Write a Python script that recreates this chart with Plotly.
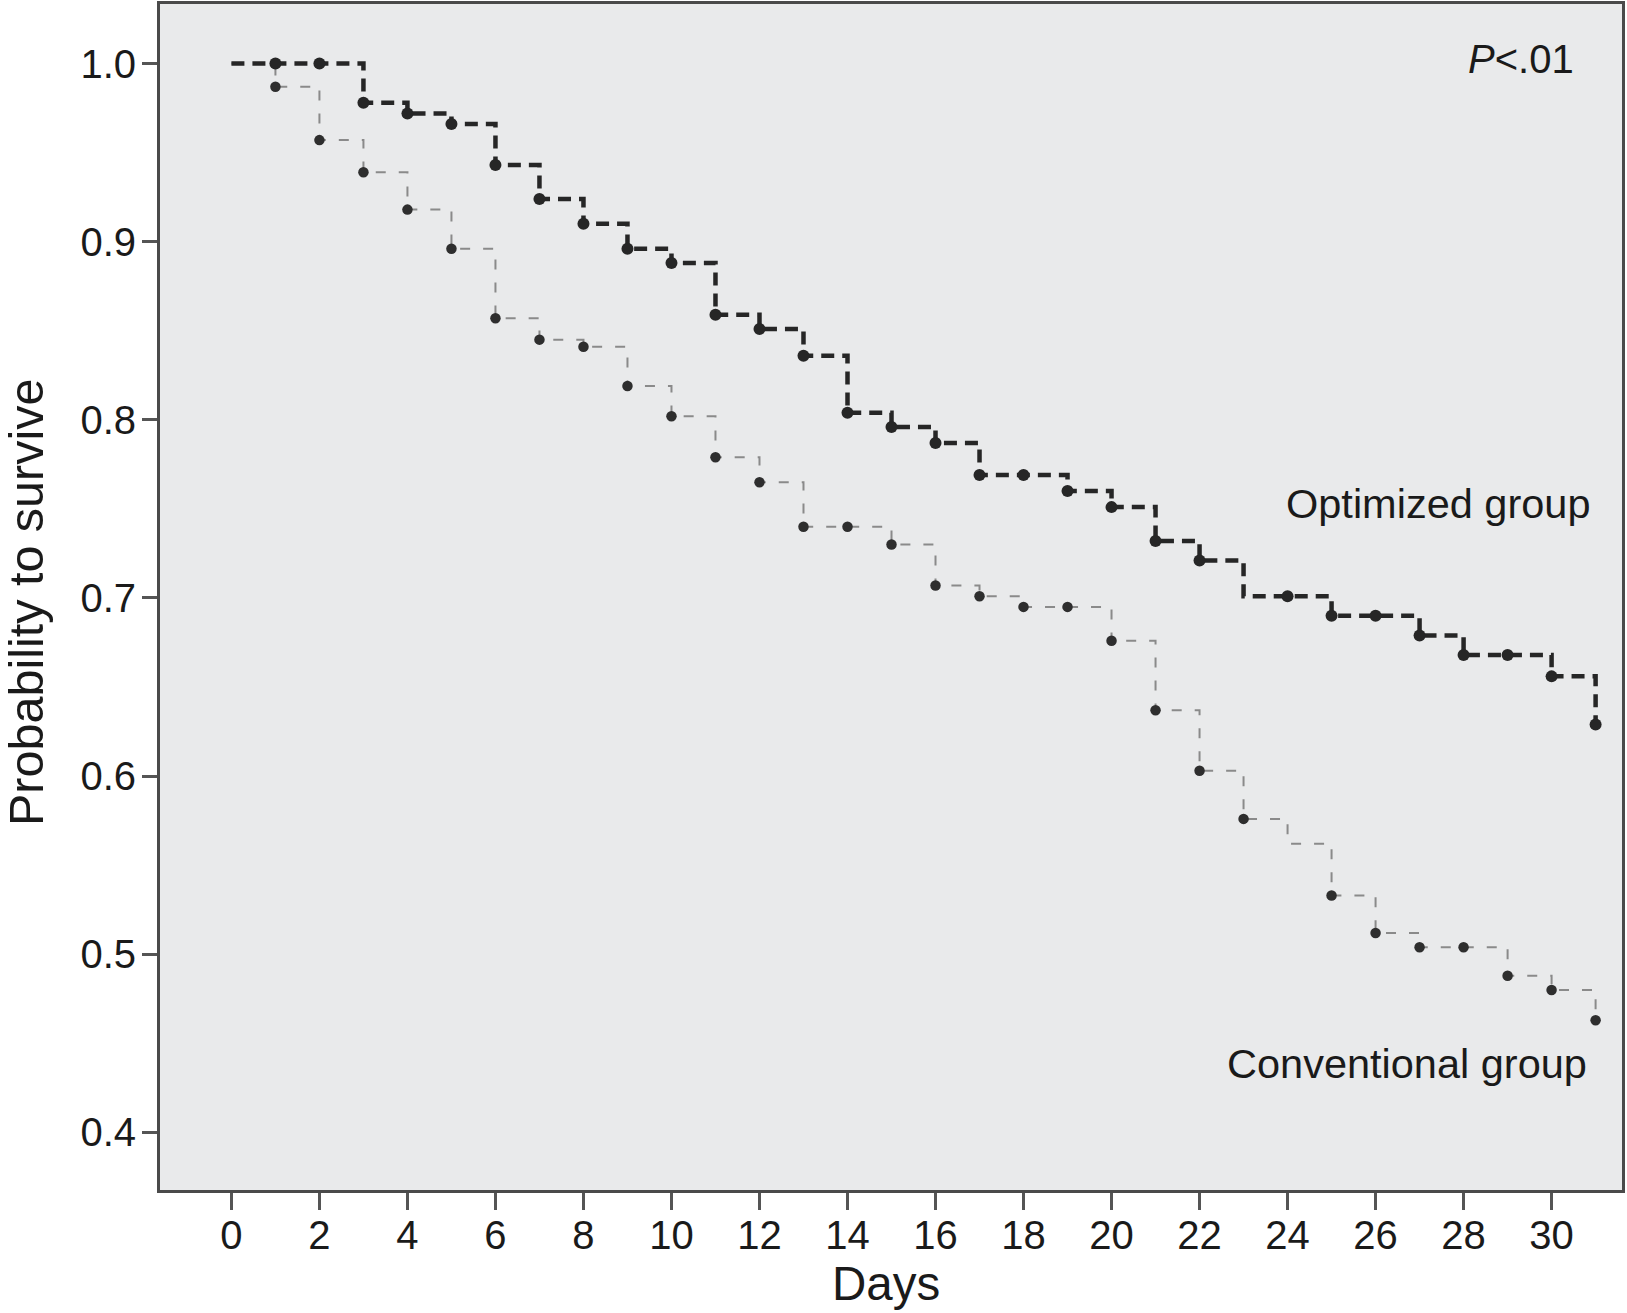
import plotly.graph_objects as go

# ---- data ----
days = list(range(0, 32))
optimized = [1.0, 1.0, 1.0, 0.978, 0.972, 0.966, 0.943, 0.924, 0.910, 0.896,
             0.888, 0.859, 0.851, 0.836, 0.804, 0.796, 0.787, 0.769, 0.769, 0.760,
             0.751, 0.732, 0.721, 0.701, 0.701, 0.690, 0.690, 0.679, 0.668, 0.668,
             0.656, 0.629]
conventional = [1.0, 0.987, 0.957, 0.939, 0.918, 0.896, 0.857, 0.845, 0.841, 0.819,
                0.802, 0.779, 0.765, 0.740, 0.740, 0.730, 0.707, 0.701, 0.695, 0.695,
                0.676, 0.637, 0.603, 0.576, 0.562, 0.533, 0.512, 0.504, 0.504, 0.488,
                0.480, 0.463]
optimized_mark_days = [d for d in range(1, 32) if d != 23]
conventional_mark_days = [d for d in range(1, 32) if d != 24]
x_ticks = list(range(0, 31, 2))
y_ticks = [0.4, 0.5, 0.6, 0.7, 0.8, 0.9, 1.0]

FONT = "Liberation Sans, Arial, Helvetica, sans-serif"

fig = go.Figure()

# conventional group: light thin dashed step line
fig.add_trace(go.Scatter(
    x=days, y=conventional, mode="lines", line_shape="hv",
    line=dict(color="#8a8a8a", width=2, dash="10px,13px"),
    hoverinfo="skip", showlegend=False))
fig.add_trace(go.Scatter(
    x=conventional_mark_days, y=[conventional[d] for d in conventional_mark_days],
    mode="markers", marker=dict(symbol="circle", size=10.5, color="#2e2e2e"),
    showlegend=False))

# optimized group: dark thick dashed step line
fig.add_trace(go.Scatter(
    x=days, y=optimized, mode="lines", line_shape="hv",
    line=dict(color="#262626", width=4.5, dash="13px,8px"),
    hoverinfo="skip", showlegend=False))
fig.add_trace(go.Scatter(
    x=optimized_mark_days, y=[optimized[d] for d in optimized_mark_days],
    mode="markers", marker=dict(symbol="circle", size=12, color="#262626"),
    showlegend=False))

W, H = 1627, 1313
L, R, T, B = 160, 5, 4, 123

fig.update_layout(
    width=W, height=H,
    margin=dict(l=L, r=R, t=T, b=B, autoexpand=False),
    paper_bgcolor="white",
    plot_bgcolor="#e9eaeb",
    font=dict(family=FONT, color="#1a1a1a", size=39),
    xaxis=dict(range=[-1.623, 31.6], tickvals=x_ticks, ticktext=[str(v) for v in x_ticks],
               showgrid=False, zeroline=False, showline=True, mirror=True,
               linecolor="#4a4a4a", linewidth=3, ticks="outside", ticklen=17,
               tickwidth=3, tickcolor="#555555", ticklabelstandoff=-9,
               tickfont=dict(size=40, family=FONT, color="#1a1a1a")),
    yaxis=dict(range=[0.3677, 1.0334], tickvals=y_ticks, ticktext=[f"{v:.1f}" for v in y_ticks],
               showgrid=False, zeroline=False, showline=True, mirror=True,
               linecolor="#4a4a4a", linewidth=3, ticks="outside", ticklen=15,
               tickwidth=3, tickcolor="#555555", ticklabelstandoff=-2,
               tickfont=dict(size=40, family=FONT, color="#1a1a1a")),
)

plot_w = W - L - R
plot_h = H - T - B

annotations = [
    dict(text="Probability to survive", xref="paper", yref="paper",
         x=(26 - L) / plot_w, y=(H - B - 603) / plot_h, textangle=-90,
         xanchor="center", yanchor="middle", showarrow=False,
         font=dict(size=48.5, family=FONT, color="#1a1a1a")),
    dict(text="Days", xref="paper", yref="paper",
         x=(886 - L) / plot_w, y=(H - B - 1283) / plot_h,
         xanchor="center", yanchor="middle", showarrow=False,
         font=dict(size=47.5, family=FONT, color="#1a1a1a")),
    dict(text="<i>P</i>&lt;.01", xref="x", yref="y", x=30.55, y=1.0025,
         xanchor="right", yanchor="middle", showarrow=False,
         font=dict(size=40, family=FONT, color="#1a1a1a")),
    dict(text="Optimized group", xref="x", yref="y", x=30.92, y=0.7528,
         xanchor="right", yanchor="middle", showarrow=False,
         font=dict(size=41.5, family=FONT, color="#1a1a1a")),
    dict(text="Conventional group", xref="x", yref="y", x=30.85, y=0.4388,
         xanchor="right", yanchor="middle", showarrow=False,
         font=dict(size=41.5, family=FONT, color="#1a1a1a")),
]
fig.update_layout(annotations=annotations)

fig.write_html("out.html",
               config={"displayModeBar": False},
               post_script="document.body.style.margin='0';document.body.style.padding='0';")
